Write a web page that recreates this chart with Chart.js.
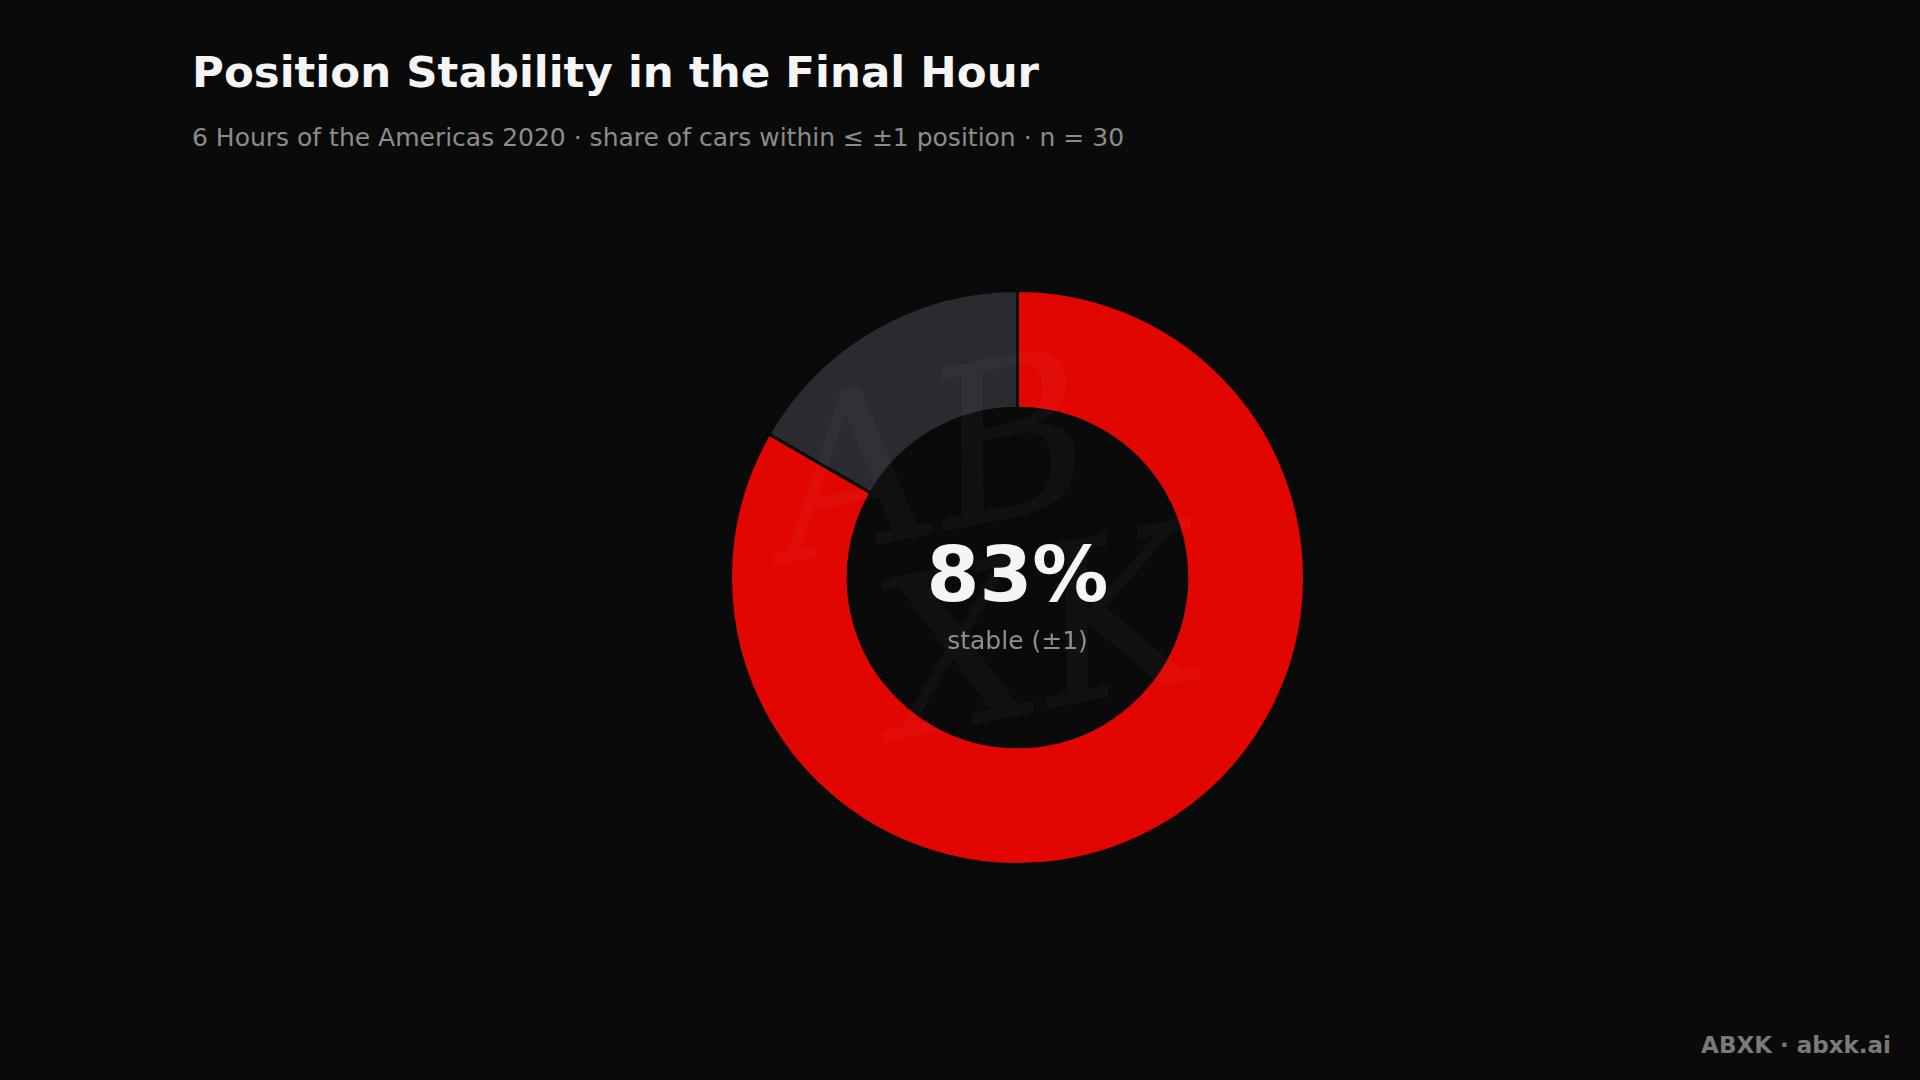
<!DOCTYPE html>
<html>
<head>
<meta charset="utf-8">
<script src="https://cdn.jsdelivr.net/npm/chart.js@4.4.1/dist/chart.umd.min.js"></script>
<style>
  html, body { margin: 0; padding: 0; background: #0a0a0a; width: 1920px; height: 1080px; overflow: hidden; font-family: "DejaVu Sans", sans-serif; }
  .title { position: absolute; left: 192px; top: 51px; font-size: 43.5px; line-height: 1; font-weight: bold; color: #f5f5f5; white-space: nowrap; }
  .subtitle { position: absolute; left: 192px; top: 125px; font-size: 25px; line-height: 1; color: #8c8c8c; white-space: nowrap; }
  .footer { position: absolute; right: 29px; top: 1034px; font-size: 23px; line-height: 1; font-weight: bold; color: #7a7a7a; white-space: nowrap; }
  .chart-box { position: absolute; left: 729px; top: 289px; width: 577px; height: 577px; }
</style>
</head>
<body>
<div class="title">Position Stability in the Final Hour</div>
<div class="subtitle">6 Hours of the Americas 2020 · share of cars within ≤ ±1 position · n = 30</div>
<div class="chart-box"><canvas id="stabilityChart"></canvas></div>
<div class="footer">ABXK · abxk.ai</div>

<script>
// dữ liệu: 30 xe, 25 xe ổn định (±1), 5 xe thay đổi nhiều hơn
const labels = ['Stable (±1)', 'Moved more'];
const carCounts = [25, 5];
const sliceColors = ['#e10600', '#2a2a31'];
const centerValue = '83%';
const centerLabel = 'stable (±1)';

// chữ ở giữa vòng + watermark mờ
const centerTextPlugin = {
    id: 'centerText',
    afterDatasetsDraw(chart) {
        const ctx = chart.ctx;
        const arc = chart.getDatasetMeta(0).data[0];
        const cx = arc.x, cy = arc.y;
        ctx.save();

        // watermark ABXK (rất mờ)
        ctx.fillStyle = 'rgba(255,255,255,0.03)';
        ctx.font = 'italic 220px "DejaVu Serif", serif';
        ctx.textAlign = 'center';
        ctx.textBaseline = 'alphabetic';
        ctx.translate(cx, cy);
        ctx.rotate(-0.2);
        ctx.fillText('AB', -60, -60);
        ctx.fillText('XK', 10, 135);
        ctx.setTransform(1, 0, 0, 1, 0, 0);

        ctx.textAlign = 'center';
        ctx.fillStyle = '#f5f5f5';
        ctx.font = 'bold 76px "DejaVu Sans", sans-serif';
        ctx.fillText(centerValue, cx, cy + 23);
        ctx.fillStyle = '#8f8f8f';
        ctx.font = '25px "DejaVu Sans", sans-serif';
        ctx.fillText(centerLabel, cx, cy + 71);
        ctx.restore();
    }
};

const chartContext = document.getElementById('stabilityChart').getContext('2d');
new Chart(chartContext, {
    type: 'doughnut',
    data: {
        labels: labels,
        datasets: [{
            data: carCounts,
            backgroundColor: sliceColors,
            borderColor: '#0a0a0a',
            borderWidth: 3,
            hoverOffset: 0
        }]
    },
    options: {
        responsive: true,
        maintainAspectRatio: false,
        animation: false,
        cutout: '59%',
        layout: { padding: 0 },
        plugins: {
            legend: { display: false },
            tooltip: { enabled: false }
        }
    },
    plugins: [centerTextPlugin]
});
</script>
</body>
</html>
